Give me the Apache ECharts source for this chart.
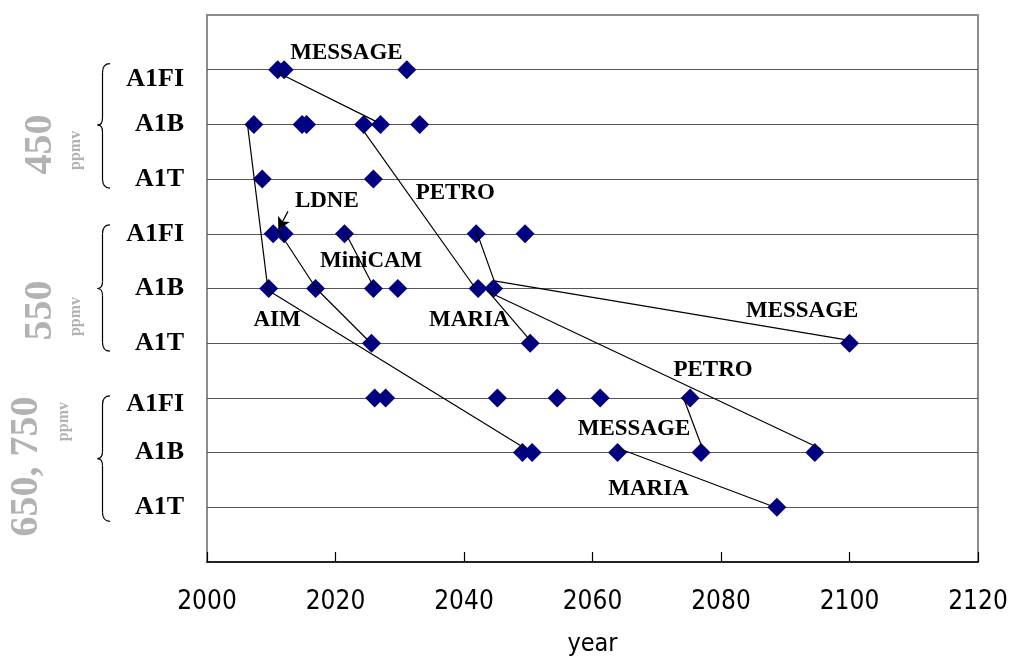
<!DOCTYPE html>
<html>
<head>
<meta charset="utf-8">
<script src="https://cdn.jsdelivr.net/npm/echarts@6/dist/echarts.min.js"></script>
<style>
  html, body { margin: 0; padding: 0; background: #fff; }
  #chart { width: 1010px; height: 657px; }
</style>
</head>
<body>
<div id="chart"></div>
<script>
// x axis ticks (years)
const yearTicks = [2000, 2020, 2040, 2060, 2080, 2100, 2120];

// row labels, indexed by the row value on the y axis (1 = bottom row)
const rowLabels = ['', 'A1T', 'A1B', 'A1FI', 'A1T', 'A1B', 'A1FI', 'A1T', 'A1B', 'A1FI', ''];

// stabilisation groups (text drawn beside the brackets)
const groupNames = ['450', '550', '650, 750'];
const groupUnit = 'ppmv';

// years at which each model/scenario reaches the target, one array per row
const r450_A1FI = [2011.0, 2012.0, 2031.1];
const r450_A1B  = [2007.3, 2014.8, 2015.5, 2024.4, 2027.0, 2033.1];
const r450_A1T  = [2008.6, 2025.9];
const r550_A1FI = [2010.3, 2012.0, 2021.4, 2041.9, 2049.5];
const r550_A1B  = [2009.6, 2016.9, 2025.9, 2029.7, 2042.2, 2044.6];
const r550_A1T  = [2025.6, 2050.3, 2100.0];
const r650_A1FI = [2026.1, 2027.8, 2045.2, 2054.5, 2061.2, 2075.2];
const r650_A1B  = [2049.1, 2050.6, 2063.9, 2076.9, 2094.6];
const r650_A1T  = [2088.7];

// model trajectories across scenarios: [year, row]
const lineMessage450 = [[2011.0, 8.95], [2026.2, 8.06]];
const lineAim        = [[2006.3, 8.0], [2009.5, 4.97], [2049.6, 2.07]];
const lineLdne       = [[2011.1, 6.06], [2017.0, 5.0], [2025.1, 4.05]];
const lineMiniCam    = [[2021.5, 6.03], [2026.0, 5.02]];
const linePetro450   = [[2024.5, 7.86], [2041.8, 5.0]];
const lineMessage550 = [[2041.9, 6.06], [2044.7, 5.14], [2100.0, 4.05]];
const lineMaria550   = [[2043.6, 4.97], [2050.3, 4.05]];
const linePetro550   = [[2043.6, 4.95], [2095.5, 2.07]];
const linePetro650   = [[2074.2, 2.99], [2077.1, 2.08]];
const lineMaria650   = [[2064.0, 2.08], [2088.0, 1.02]];

// model name labels
const labelNames = ['MESSAGE', 'LDNE', 'PETRO', 'MiniCAM', 'AIM', 'MARIA', 'MESSAGE', 'PETRO', 'MESSAGE', 'MARIA'];
const labelYears = [2021.7, 2018.65, 2038.65, 2025.56, 2010.91, 2040.83, 2092.64, 2078.77, 2066.46, 2068.72];
const labelRows  = [9.30, 6.59, 6.75, 5.50, 4.42, 4.42, 4.59, 3.50, 2.43, 1.33];

// arrow from the LDNE label to its marker
const ldneArrow = [[2012.6, 6.41], [2011.1, 6.08]];

const rows = [
  [r650_A1T, 1], [r650_A1B, 2], [r650_A1FI, 3],
  [r550_A1T, 4], [r550_A1B, 5], [r550_A1FI, 6],
  [r450_A1T, 7], [r450_A1B, 8], [r450_A1FI, 9]
];
const points = [];
rows.forEach(([ys, r]) => ys.forEach(y => points.push([y, r])));

const trajectories = [lineMessage450, lineAim, lineLdne, lineMiniCam, linePetro450,
  lineMessage550, lineMaria550, linePetro550, linePetro650, lineMaria650];

const serif = '"Liberation Serif", "Times New Roman", serif';
const narrow = '"DejaVu Sans Condensed", "Arial Narrow", sans-serif';

const chart = echarts.init(document.getElementById('chart'), null, { renderer: 'canvas' });

const yLabelRich = {
  n:  { fontFamily: serif, fontWeight: 'bold', fontSize: 26, color: '#000' },
  d6: { fontFamily: serif, fontWeight: 'bold', fontSize: 26, color: '#000', padding: [12, 0, 0, 0] },
  d10:{ fontFamily: serif, fontWeight: 'bold', fontSize: 26, color: '#000', padding: [20, 0, 0, 0] }
};

const series = [
  {
    type: 'scatter',
    data: points,
    symbol: 'diamond',
    symbolSize: 19,
    itemStyle: { color: '#000080', opacity: 1 },
    silent: true,
    z: 2
  }
];
trajectories.forEach(t => series.push({
  type: 'line',
  data: t,
  showSymbol: false,
  symbol: 'none',
  lineStyle: { color: '#000', width: 1.2, opacity: 1 },
  silent: true,
  z: 3
}));
series.push({
  type: 'scatter',
  data: labelNames.map((n, i) => ({ name: n, value: [labelYears[i], labelRows[i]] })),
  symbolSize: 0,
  silent: true,
  z: 4,
  itemStyle: { opacity: 1 },
  label: {
    show: true,
    position: 'inside',
    formatter: p => p.name,
    fontFamily: serif,
    fontWeight: 'bold',
    fontSize: 23,
    color: '#000'
  },
  markLine: {
    silent: true,
    symbol: ['none', 'arrow'],
    symbolSize: [10, 12],
    label: { show: false },
    lineStyle: { color: '#000', width: 1.2, type: 'solid', opacity: 1 },
    data: [[{ coord: ldneArrow[0] }, { coord: ldneArrow[1] }]]
  }
});

chart.setOption({
  animation: false,
  backgroundColor: '#fff',
  grid: {
    left: 207, right: 32, top: 15, bottom: 95,
    outerBoundsMode: 'none',
    containLabel: false,
    show: true, borderColor: '#8c8c8c', borderWidth: 2
  },
  xAxis: {
    type: 'value',
    min: yearTicks[0],
    max: yearTicks[yearTicks.length - 1],
    interval: yearTicks[1] - yearTicks[0],
    axisLine: { show: true, lineStyle: { color: '#000', width: 1.5 } },
    axisTick: { show: true, inside: true, length: 10, lineStyle: { color: '#000', width: 1.2 } },
    axisLabel: { fontFamily: narrow, fontSize: 26, color: '#000', margin: 27, formatter: v => String(v) },
    splitLine: { show: false },
    name: 'year',
    nameLocation: 'middle',
    nameGap: 70,
    nameTextStyle: { fontFamily: narrow, fontSize: 25, color: '#000' }
  },
  yAxis: {
    type: 'value',
    min: 0,
    max: 10,
    interval: 1,
    axisLine: { show: false },
    axisTick: { show: false },
    axisLabel: {
      margin: 23,
      formatter: v => {
        const t = rowLabels[v] || '';
        if (!t) return '';
        const k = v === 9 ? 'd10' : (v === 3 ? 'd6' : 'n');
        return '{' + k + '|' + t + '}';
      },
      rich: yLabelRich
    },
    splitLine: {
      show: true,
      showMinLine: false,
      showMaxLine: false,
      lineStyle: { color: '#555', width: 1.2 }
    }
  },
  series: series
});

// brackets and rotated group names to the left of the row labels
function yPix(v) { return chart.convertToPixel({ gridIndex: 0 }, [2000, v])[1]; }

function brace(yTop, yMid, yBot) {
  const xEnd = 110, xV = 102.5, xTip = 97.5;
  const s = { stroke: '#000', lineWidth: 1.2, fill: null };
  return [
    { type: 'bezierCurve', shape: { x1: xEnd, y1: yTop, cpx1: xV, cpy1: yTop, x2: xV, y2: yTop + 9 }, style: s, silent: true },
    { type: 'line', shape: { x1: xV, y1: yTop + 9, x2: xV, y2: yMid - 7 }, style: s, silent: true },
    { type: 'bezierCurve', shape: { x1: xV, y1: yMid - 7, cpx1: xV, cpy1: yMid, x2: xTip, y2: yMid }, style: s, silent: true },
    { type: 'bezierCurve', shape: { x1: xTip, y1: yMid, cpx1: xV, cpy1: yMid, x2: xV, y2: yMid + 7 }, style: s, silent: true },
    { type: 'line', shape: { x1: xV, y1: yMid + 7, x2: xV, y2: yBot - 9 }, style: s, silent: true },
    { type: 'bezierCurve', shape: { x1: xV, y1: yBot - 9, cpx1: xV, cpy1: yBot, x2: xEnd, y2: yBot }, style: s, silent: true }
  ];
}

function rotText(text, x, y, size) {
  return {
    type: 'text',
    x: x, y: y,
    rotation: Math.PI / 2,
    silent: true,
    style: {
      text: text,
      font: 'bold ' + size + 'px ' + serif,
      fill: '#b2b2b2',
      align: 'center',
      verticalAlign: 'middle'
    }
  };
}

const g = [];
g.push(...brace(yPix(9) - 6, yPix(8) + 0.5, yPix(7) + 9));
g.push(...brace(yPix(6) - 9, yPix(5), yPix(4) + 8));
g.push(...brace(yPix(3) - 2, yPix(2) + 6, yPix(1) + 14));

g.push(rotText(groupNames[0], 41, yPix(8) + 20, 40));
g.push(rotText(groupUnit, 76, yPix(8) + 26, 16));
g.push(rotText(groupNames[1], 41, yPix(5) + 22, 40));
g.push(rotText(groupUnit, 76, yPix(5) + 28, 16));
g.push(rotText(groupNames[2], 27, yPix(2) + 14, 40));
g.push(rotText(groupUnit, 64, yPix(2) - 31, 16));

chart.setOption({ graphic: { elements: g } });
</script>
</body>
</html>
